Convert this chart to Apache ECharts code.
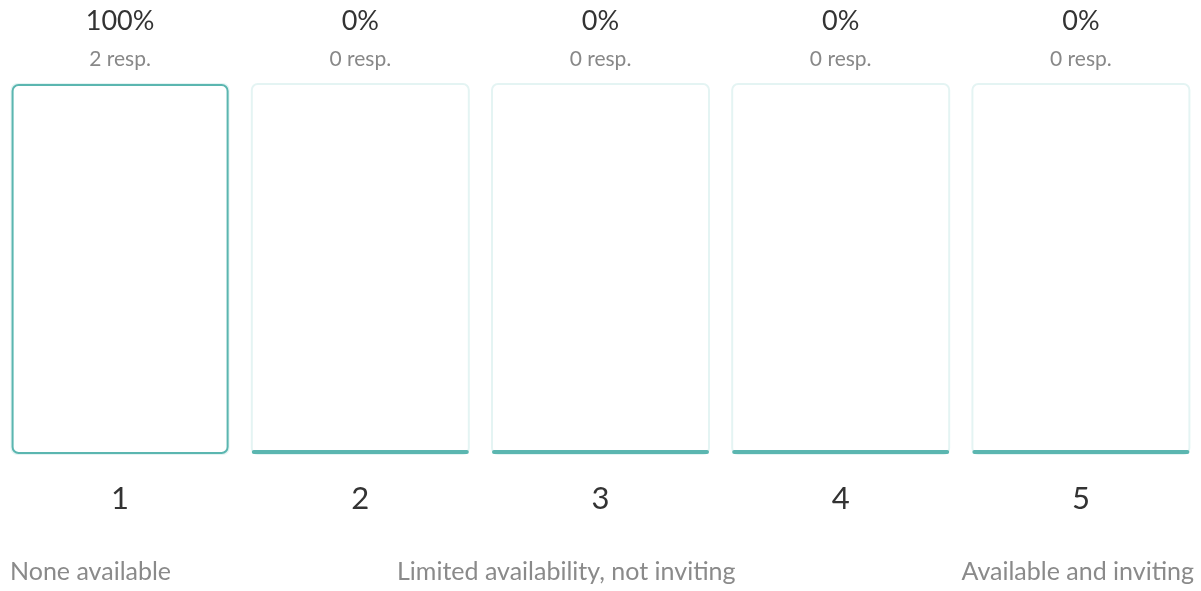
<!DOCTYPE html>
<html>
<head>
<meta charset="utf-8">
<script src="https://cdn.jsdelivr.net/npm/echarts@6/dist/echarts.min.js"></script>
<style>
  html, body { margin: 0; padding: 0; background: #fff; }
  #chart { width: 1201px; height: 591px; }
</style>
</head>
<body>
<div id="chart"></div>
<script>
const categories = ['1', '2', '3', '4', '5']
const percents = [100, 0, 0, 0, 0]
const responses = [2, 0, 0, 0, 0]
const scaleLabels = ['None available', 'Limited availability, not inviting', 'Available and inviting']

const chart = echarts.init(document.getElementById('chart'))
const font = 'Lato'
const teal = '#5bb6b0'

const sideText = (pos, text) => ({
  type: 'text', ...pos, top: 559,
  style: { text: text, fontSize: 25, fontFamily: font, fill: '#8a8a8a' }
})

const option = {
  animation: false,
  grid: { left: 0, right: 0, top: 84, bottom: 137 },
  xAxis: [
    {
      type: 'category',
      data: categories,
      axisLine: { show: false },
      axisTick: { show: false },
      axisLabel: { margin: 29, fontSize: 31, color: '#333', fontFamily: font }
    },
    {
      type: 'category',
      position: 'top',
      data: categories,
      axisLine: { show: false },
      axisTick: { show: false },
      axisLabel: {
        margin: 6,
        fontFamily: font,
        formatter: (v, i) => `{p|${percents[i]}%}\n{r|${responses[i]} resp.}`,
        rich: {
          p: { fontSize: 27, color: '#333', lineHeight: 39, fontFamily: font },
          r: { fontSize: 21, color: '#888', lineHeight: 37, fontFamily: font }
        }
      }
    }
  ],
  yAxis: {
    type: 'value', min: 0, max: 100,
    show: false
  },
  series: [
    {
      type: 'bar',
      data: percents,
      barWidth: 217,
      barMinHeight: 4,
      showBackground: true,
      backgroundStyle: {
        color: '#fff',
        borderColor: '#e4f4f3',
        borderWidth: 2,
        borderRadius: 6
      },
      itemStyle: {
        color: '#fff',
        borderColor: teal,
        borderWidth: 2,
        borderRadius: 6
      }
    }
  ],
  graphic: [
    sideText({ left: 10 }, scaleLabels[0]),
    sideText({ left: 397 }, scaleLabels[1]),
    sideText({ right: 7 }, scaleLabels[2])
  ]
}
chart.setOption(option)
</script>
</body>
</html>
